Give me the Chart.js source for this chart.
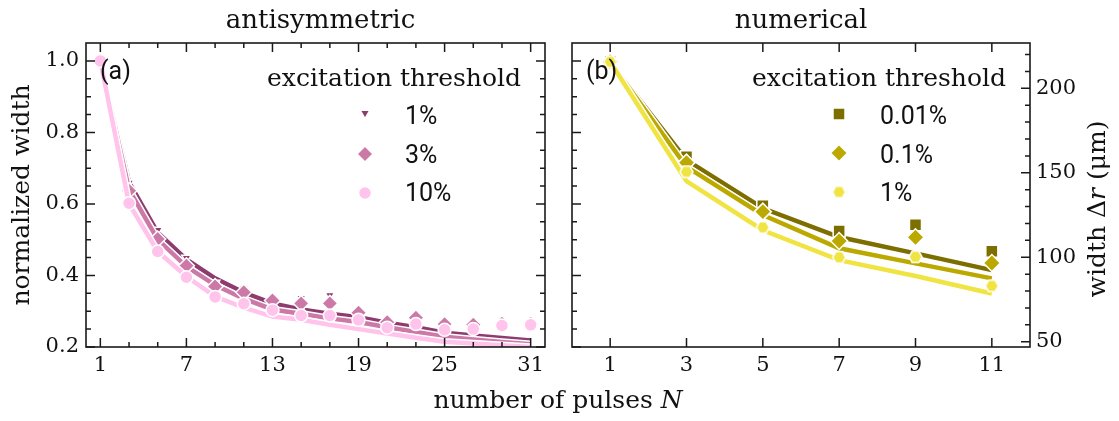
<!DOCTYPE html>
<html>
<head>
<meta charset="utf-8">
<script src="https://cdn.jsdelivr.net/npm/chart.js@4.4.0/dist/chart.umd.min.js"></script>
<style>
  body { margin: 0; background: #fff; }
  #wrap { position: relative; width: 1119px; height: 421px; overflow: hidden; }
  .box { position: absolute; top: 0; height: 421px; }
  #xlab { position: absolute; left: 0; width: 1116px; top: 385px; text-align: center;
          font: 25px "DejaVu Serif", serif; line-height: 30px; color: #111; }
</style>
</head>
<body>
<div id="wrap">
  <div class="box" style="left:0;width:556px"><canvas id="c1"></canvas></div>
  <div class="box" style="left:556px;width:563px"><canvas id="c2"></canvas></div>
  <div id="xlab">number of pulses <i>N</i></div>
</div>
<script>
/* ---- donnees panneau (a) : largeur normalisee ---- */
const pulsesA = [1, 3, 5, 7, 9, 11, 13, 15, 17, 19, 21, 23, 25, 27, 29, 31]
const seuilsA = ['1%', '3%', '10%']
const ptsA1  = [1.0, 0.659, 0.527, 0.449, 0.379, 0.365, 0.338, 0.337, 0.345, 0.300, 0.277, 0.287, 0.268, 0.273, 0.275, 0.270]
const ptsA3  = [1.0, 0.637, 0.502, 0.427, 0.369, 0.353, 0.330, 0.322, 0.322, 0.296, 0.269, 0.282, 0.264, 0.262, 0.265, 0.265]
const ptsA10 = [1.0, 0.602, 0.467, 0.395, 0.340, 0.321, 0.303, 0.288, 0.288, 0.276, 0.254, 0.264, 0.248, 0.250, 0.260, 0.262]
const fitA1  = [1.0, 0.660, 0.520, 0.445, 0.392, 0.352, 0.322, 0.305, 0.293, 0.283, 0.268, 0.255, 0.240, 0.232, 0.225, 0.218]
const fitA3  = [1.0, 0.640, 0.500, 0.425, 0.373, 0.335, 0.305, 0.293, 0.280, 0.270, 0.255, 0.242, 0.229, 0.221, 0.214, 0.208]
const fitA10 = [1.0, 0.600, 0.467, 0.397, 0.341, 0.310, 0.285, 0.276, 0.262, 0.250, 0.238, 0.226, 0.215, 0.210, 0.205, 0.200]

/* ---- donnees panneau (b) : largeur en um ---- */
const pulsesB = [1, 3, 5, 7, 9, 11]
const seuilsB = ['0.01%', '0.1%', '1%']
const ptsB001 = [215.7, 159.5, 130.5, 115.5, 119.2, 103.5]
const ptsB01  = [215.7, 156.0, 127.0, 109.6, 111.8, 96.6]
const ptsB1   = [215.7, 150.6, 117.7, 100.0, 100.3, 83.1]
const fitB001 = [215.7, 157.5, 129.0, 112.0, 102.3, 92.4]
const fitB01  = [215.7, 153.5, 125.0, 105.3, 96.4, 87.5]
const fitB1   = [215.7, 145.0, 116.0, 98.3, 88.9, 78.6]

/* ---- graduations ---- */
const ticksXA = [1, 7, 13, 19, 25, 31]
const minorXA = [3, 5, 9, 11, 15, 17, 21, 23, 27, 29]
const ticksYA = [0.2, 0.4, 0.6, 0.8, 1.0]
const minorYA = [0.25, 0.3, 0.35, 0.45, 0.5, 0.55, 0.65, 0.7, 0.75, 0.85, 0.9, 0.95]
const ticksXB = [1, 3, 5, 7, 9, 11]
const ticksYB = [50, 100, 150, 200]
const minorYB = [60, 70, 80, 90, 110, 120, 130, 140, 160, 170, 180, 190, 210, 220]

const couleursA = ['#8E3B6F', '#CC79A7', '#FFC3EC']
const couleursB = ['#7D6E00', '#BCA900', '#F0E442']
const serif = '"DejaVu Serif", serif'

// petit hexagone pour les marqueurs 1% du panneau (b)
function hexa(couleur, r) {
  const c = document.createElement('canvas')
  const s = Math.ceil(2 * r + 4)
  c.width = s; c.height = s
  const g = c.getContext('2d')
  g.beginPath()
  for (let k = 0; k < 6; k++) {
    const ang = Math.PI / 3 * k
    if (k === 0) g.moveTo(s / 2 + r * Math.cos(ang), s / 2 + r * Math.sin(ang))
    else g.lineTo(s / 2 + r * Math.cos(ang), s / 2 + r * Math.sin(ang))
  }
  g.closePath()
  g.fillStyle = couleur; g.fill()
  g.strokeStyle = '#fff'; g.lineWidth = 1.5; g.stroke()
  return c
}

const stylesA = [
  {forme: 'triangle', r: 5.5, rot: 180},
  {forme: 'rectRot', r: 8, rot: 0},
  {forme: 'circle', r: 6.5, rot: 0}
]
const stylesB = [
  {forme: 'rect', r: 8.5, rot: 0},
  {forme: 'rectRot', r: 8.5, rot: 0},
  {forme: hexa(couleursB[2], 6.5), r: 7, rot: 0}
]

// ligne blanche + ligne couleur + marqueurs, serie par serie
function jeux(xs, lesPts, lesFits, couleurs, styles) {
  const out = []
  const paires = v => xs.map((n, j) => ({x: n, y: v[j]}))
  lesPts.forEach((pts, i) => {
    out.push({data: paires(lesFits[i]), borderColor: '#fff', borderWidth: 7.5, pointRadius: 0, showLine: true})
    out.push({data: paires(lesFits[i]), borderColor: couleurs[i], borderWidth: 4.5, pointRadius: 0, showLine: true})
    out.push({data: paires(pts), showLine: false, pointStyle: styles[i].forme, pointRadius: styles[i].r,
      pointRotation: styles[i].rot, pointBackgroundColor: couleurs[i], pointBorderColor: '#fff', pointBorderWidth: 1.5})
  })
  out.forEach((d, k) => { d.order = 100 - k; d.yAxisID = 'y'; d.xAxisID = 'x' })
  return out
}

function marque(ctx, st, couleur, x, y) {
  if (typeof st.forme !== 'string') {
    ctx.drawImage(st.forme, x - st.forme.width / 2, y - st.forme.height / 2)
    return
  }
  ctx.fillStyle = couleur
  ctx.strokeStyle = '#fff'
  ctx.lineWidth = 1.5
  Chart.helpers.drawPoint(ctx, {pointStyle: st.forme, radius: st.r, rotation: st.rot, borderWidth: 1.5}, x, y)
}

// cadre, graduations vers l'interieur, titre, legende
function habillage(cfg) {
  return {
    id: 'habillage',
    afterDatasetsDraw(chart) {
      const ctx = chart.ctx, a = chart.chartArea, sx = chart.scales.x
      ctx.save()
      ctx.strokeStyle = '#1a1a1a'
      ctx.lineWidth = 1.5
      ctx.beginPath()
      const trait = (x1, y1, x2, y2) => { ctx.moveTo(x1, y1); ctx.lineTo(x2, y2) }
      const tx = (vals, len) => vals.forEach(v => {
        const p = sx.getPixelForValue(v)
        trait(p, a.bottom, p, a.bottom - len); trait(p, a.top, p, a.top + len)
      })
      const ty = (id, vals, len, gauche) => vals.forEach(v => {
        const p = chart.scales[id].getPixelForValue(v)
        if (gauche) trait(a.left, p, a.left + len, p)
        else trait(a.right, p, a.right - len, p)
      })
      tx(cfg.xMaj, 9); tx(cfg.xMin, 5)
      ty(cfg.g.id, cfg.g.maj, 9, true); ty(cfg.g.id, cfg.g.min, 5, true)
      ty(cfg.d.id, cfg.d.maj, 9, false); ty(cfg.d.id, cfg.d.min, 5, false)
      ctx.stroke()
      ctx.lineWidth = 1.6
      ctx.strokeRect(a.left, a.top, a.right - a.left, a.bottom - a.top)

      ctx.fillStyle = '#111'
      ctx.textBaseline = 'alphabetic'
      ctx.textAlign = 'center'
      ctx.font = '26px ' + serif
      ctx.fillText(cfg.titre, (a.left + a.right) / 2 + cfg.dxTitre, 28)

      ctx.textAlign = 'left'
      ctx.font = '25px Roboto'
      ctx.fillText(cfg.lettre, a.left + 14, 79)

      const L = cfg.leg
      ctx.textAlign = 'center'
      ctx.font = '25px ' + serif
      ctx.fillText('excitation threshold', L.cx, 86)
      L.noms.forEach((nom, i) => {
        marque(ctx, L.styles[i], L.couleurs[i], L.mx, L.my[i])
        ctx.fillStyle = '#111'
        ctx.textAlign = 'left'
        ctx.font = '25px Roboto'
        ctx.fillText(nom, L.tx, L.ty[i])
      })

      if (cfg.titreDroit) {
        const T = cfg.titreDroit
        ctx.translate(T.x, T.y)
        ctx.rotate(-Math.PI / 2)
        ctx.textAlign = 'left'
        ctx.textBaseline = 'middle'
        let larg = 0
        T.morceaux.forEach(m => { ctx.font = m[1] + '25px ' + serif; larg += ctx.measureText(m[0]).width })
        let x = -larg / 2
        T.morceaux.forEach(m => {
          ctx.font = m[1] + '25px ' + serif
          ctx.fillText(m[0], x, 0)
          x += ctx.measureText(m[0]).width
        })
      }
      ctx.restore()
    }
  }
}

const policeTicks = {family: serif, size: 21}

new Chart(document.getElementById('c1'), {
  type: 'line',
  data: {datasets: jeux(pulsesA, [ptsA1, ptsA3, ptsA10], [fitA1, fitA3, fitA10], couleursA, stylesA)},
  options: {
    responsive: true, maintainAspectRatio: false, animation: false,
    layout: {padding: {left: 0, right: 11, top: 43, bottom: 34}},
    plugins: {legend: {display: false}, tooltip: {enabled: false}},
    scales: {
      x: {type: 'linear', min: 0, max: 32,
        grid: {display: false, drawTicks: false}, border: {display: false},
        afterBuildTicks: s => { s.ticks = ticksXA.map(v => ({value: v})) },
        afterFit: s => { s.height = 40 },
        ticks: {font: policeTicks, color: '#111', padding: 6, maxRotation: 0, autoSkip: false}},
      y: {type: 'linear', min: 0.2, max: 1.05,
        grid: {display: false, drawTicks: false}, border: {display: false},
        afterBuildTicks: s => { s.ticks = ticksYA.map(v => ({value: v})) },
        afterFit: s => { s.width = 86 },
        ticks: {font: policeTicks, color: '#111', padding: 7, callback: v => v.toFixed(1)},
        title: {display: true, text: 'normalized width', color: '#111',
          font: {family: serif, size: 25}, padding: {top: 7, bottom: 0}}}
    }
  },
  plugins: [habillage({
    titre: 'antisymmetric', lettre: '(a)', dxTitre: 5,
    xMaj: ticksXA, xMin: minorXA,
    g: {id: 'y', maj: ticksYA, min: minorYA},
    d: {id: 'y', maj: ticksYA, min: minorYA},
    leg: {cx: 394, noms: seuilsA, couleurs: couleursA, styles: stylesA,
      mx: 365, my: [113, 154, 193], tx: 405, ty: [124, 163, 201]}
  })]
})

new Chart(document.getElementById('c2'), {
  type: 'line',
  data: {datasets: jeux(pulsesB, [ptsB001, ptsB01, ptsB1], [fitB001, fitB01, fitB1], couleursB, stylesB)},
  options: {
    responsive: true, maintainAspectRatio: false, animation: false,
    layout: {padding: {left: 16, right: 0, top: 43, bottom: 34}},
    plugins: {legend: {display: false}, tooltip: {enabled: false}},
    scales: {
      y: {type: 'linear', position: 'right', min: 46.9, max: 226.8,
        grid: {display: false, drawTicks: false}, border: {display: false},
        afterBuildTicks: s => { s.ticks = ticksYB.map(v => ({value: v})) },
        afterFit: s => { s.width = 89 },
        ticks: {font: policeTicks, color: '#111', padding: 6, callback: v => String(v)}},
      x: {type: 'linear', min: 0, max: 12,
        grid: {display: false, drawTicks: false}, border: {display: false},
        afterBuildTicks: s => { s.ticks = ticksXB.map(v => ({value: v})) },
        afterFit: s => { s.height = 40 },
        ticks: {font: policeTicks, color: '#111', padding: 6, maxRotation: 0, autoSkip: false}},
      yn: {type: 'linear', position: 'left', min: 0.2, max: 1.05, display: false}
    }
  },
  plugins: [habillage({
    titre: 'numerical', lettre: '(b)', dxTitre: 0,
    xMaj: ticksXB, xMin: [],
    g: {id: 'yn', maj: ticksYA, min: minorYA},
    d: {id: 'y', maj: ticksYB, min: minorYB},
    leg: {cx: 323, noms: seuilsB, couleurs: couleursB, styles: stylesB,
      mx: 283, my: [114, 153, 192], tx: 324, ty: [124, 163, 201]},
    titreDroit: {x: 542, y: 209, morceaux: [['width Δ', ''], ['r', 'italic '], [' (μm)', '']]}
  })]
})
</script>
</body>
</html>
